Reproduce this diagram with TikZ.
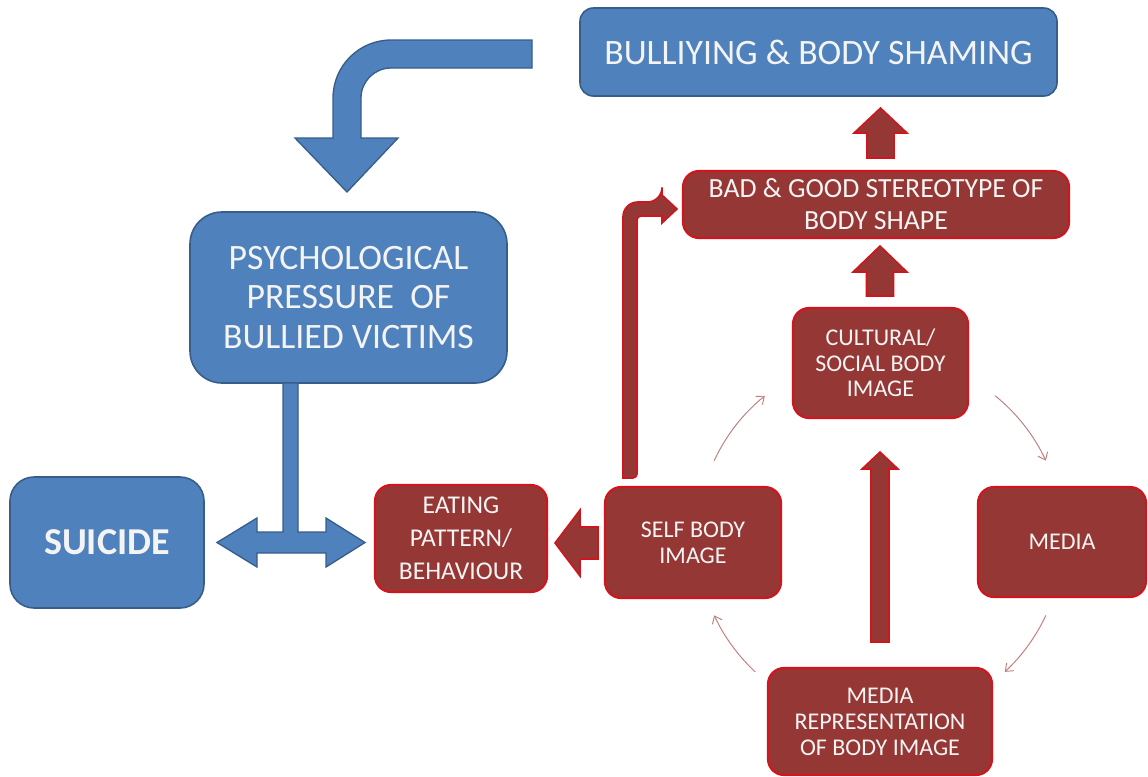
\documentclass[tikz,border=0pt]{standalone}
\usepackage{fontspec}
\setmainfont{Carlito}
\usetikzlibrary{arrows.meta,calc}
\definecolor{bfill}{HTML}{4F81BD}
\definecolor{bline}{HTML}{385D8A}
\definecolor{rfill}{HTML}{953735}
\definecolor{rline}{HTML}{D2151C}
\definecolor{txt}{HTML}{F4F4F4}
\definecolor{cyccol}{HTML}{C47A7C}
\tikzset{
  bluebox/.style={draw=bline, fill=bfill, line width=1.2pt, text=txt, align=center, inner sep=0pt},
  redbox/.style={draw=rline, fill=rfill, line width=1.6pt, text=txt, align=center, inner sep=0pt, rounded corners=12pt},
  bluearrow/.style={draw=bline, fill=bfill, line width=1pt, line join=miter},
  redarrow/.style={draw=rline, fill=rfill, line width=1.2pt, line join=miter},
  cycarrow/.style={draw=cyccol, line width=0.7pt, -{Straight Barb[length=5pt,width=8pt]}}
}
\begin{document}
\begin{tikzpicture}[x=0.75pt,y=-0.75pt]
\useasboundingbox (0,0) rectangle (1148,776);

% ---- blue nodes ----
\node[bluebox, minimum width=357.75pt, minimum height=66pt, rounded corners=10pt, font=\fontsize{26.8}{30}\selectfont] (bully) at (818.5,52) {BULLIYING \& BODY SHAMING};
\node[bluebox, minimum width=237.75pt, minimum height=128.25pt, rounded corners=24pt, font=\fontsize{26.8}{29.5}\selectfont] (psych) at (348.5,297.5) {PSYCHOLOGICAL\\PRESSURE~ OF\\BULLIED VICTIMS};
\node[bluebox, minimum width=145.5pt, minimum height=98.25pt, rounded corners=18pt, font=\fontsize{28.5}{34}\selectfont\bfseries] (suicide) at (107,542.5) {SUICIDE};

% ---- red nodes ----
\node[redbox, minimum width=129pt, minimum height=80.25pt, font=\fontsize{19.2}{24.6}\selectfont] (eat) at (461,538.5) {EATING\\PATTERN/\\BEHAVIOUR};
\node[redbox, minimum width=132pt, minimum height=83.25pt, font=\fontsize{18}{19.5}\selectfont] (self) at (693,542.5) {SELF BODY\\IMAGE};
\node[redbox, minimum width=289.5pt, minimum height=50.25pt, font=\fontsize{20.8}{24}\selectfont] (bad) at (876,204.5) {BAD \& GOOD STEREOTYPE OF\\BODY SHAPE};
\node[redbox, minimum width=131.25pt, minimum height=82.5pt, font=\fontsize{18}{19}\selectfont] (cult) at (880.5,363) {CULTURAL/\\SOCIAL BODY\\IMAGE};
\node[redbox, minimum width=126pt, minimum height=82.5pt, font=\fontsize{18}{20}\selectfont] (media) at (1062,542) {MEDIA};
\node[redbox, minimum width=168pt, minimum height=80.25pt, font=\fontsize{18}{19.5}\selectfont] (rep) at (880,721.5) {MEDIA\\REPRESENTATION\\OF BODY IMAGE};

% ---- blue curved arrow: bully -> psych ----
\draw[bluearrow] (532,40) -- (391,40) .. controls (359,40) and (333,66) .. (333,98)
  -- (333,138) -- (295,138) -- (347,192) -- (398,138) -- (361,138) -- (361,98)
  .. controls (361,81.4) and (374.4,68) .. (391,68) -- (532,68) -- cycle;

% ---- blue T double arrow: psych -> suicide / eat ----
\draw[bluearrow] (283,383) -- (283,532) -- (257,532) -- (257,518) -- (217,542.5) -- (257,567)
  -- (257,553) -- (326,553) -- (326,567) -- (365,542.5) -- (326,518) -- (326,532)
  -- (298,532) -- (298,383) -- cycle;

% ---- red block arrows ----
% bad -> bully
\draw[redarrow] (867,158) -- (867,133) -- (854,133) -- (880.5,108) -- (907,133) -- (894,133) -- (894,158) -- cycle;
% cult -> bad
\draw[redarrow] (866.5,296) -- (866.5,272) -- (853,272) -- (880,246) -- (907,272) -- (893.5,272) -- (893.5,296) -- cycle;
% rep -> cult
\draw[redarrow] (871,642) -- (871,469) -- (862,469) -- (880,452) -- (898,469) -- (889,469) -- (889,642) -- cycle;
% self -> eat
\draw[redarrow] (598,527) -- (580,527) -- (580,510) -- (555,543) -- (580,576) -- (580,559) -- (598,559) -- cycle;
% self -> bad (elbow)
\draw[redarrow] (623,478) [rounded corners=11pt] -- (623,202) -- (662,202) [sharp corners]
  -- (662,195) -- (677,209) -- (662,223) -- (662,216) [rounded corners=3pt] -- (637,216)
  -- (637,478) [sharp corners] -- cycle;

% ---- thin cycle arrows ----
\coordinate (cc) at (880,538);
\draw[cycarrow] ($(cc)+(205:183)$) arc[start angle=205, end angle=231, radius=183];
\draw[cycarrow] ($(cc)+(309:183)$) arc[start angle=309, end angle=335, radius=183];
\draw[cycarrow] ($(cc)+(25:183)$) arc[start angle=25, end angle=47, radius=183];
\draw[cycarrow] ($(cc)+(133:183)$) arc[start angle=133, end angle=155, radius=183];
\end{tikzpicture}
\end{document}
